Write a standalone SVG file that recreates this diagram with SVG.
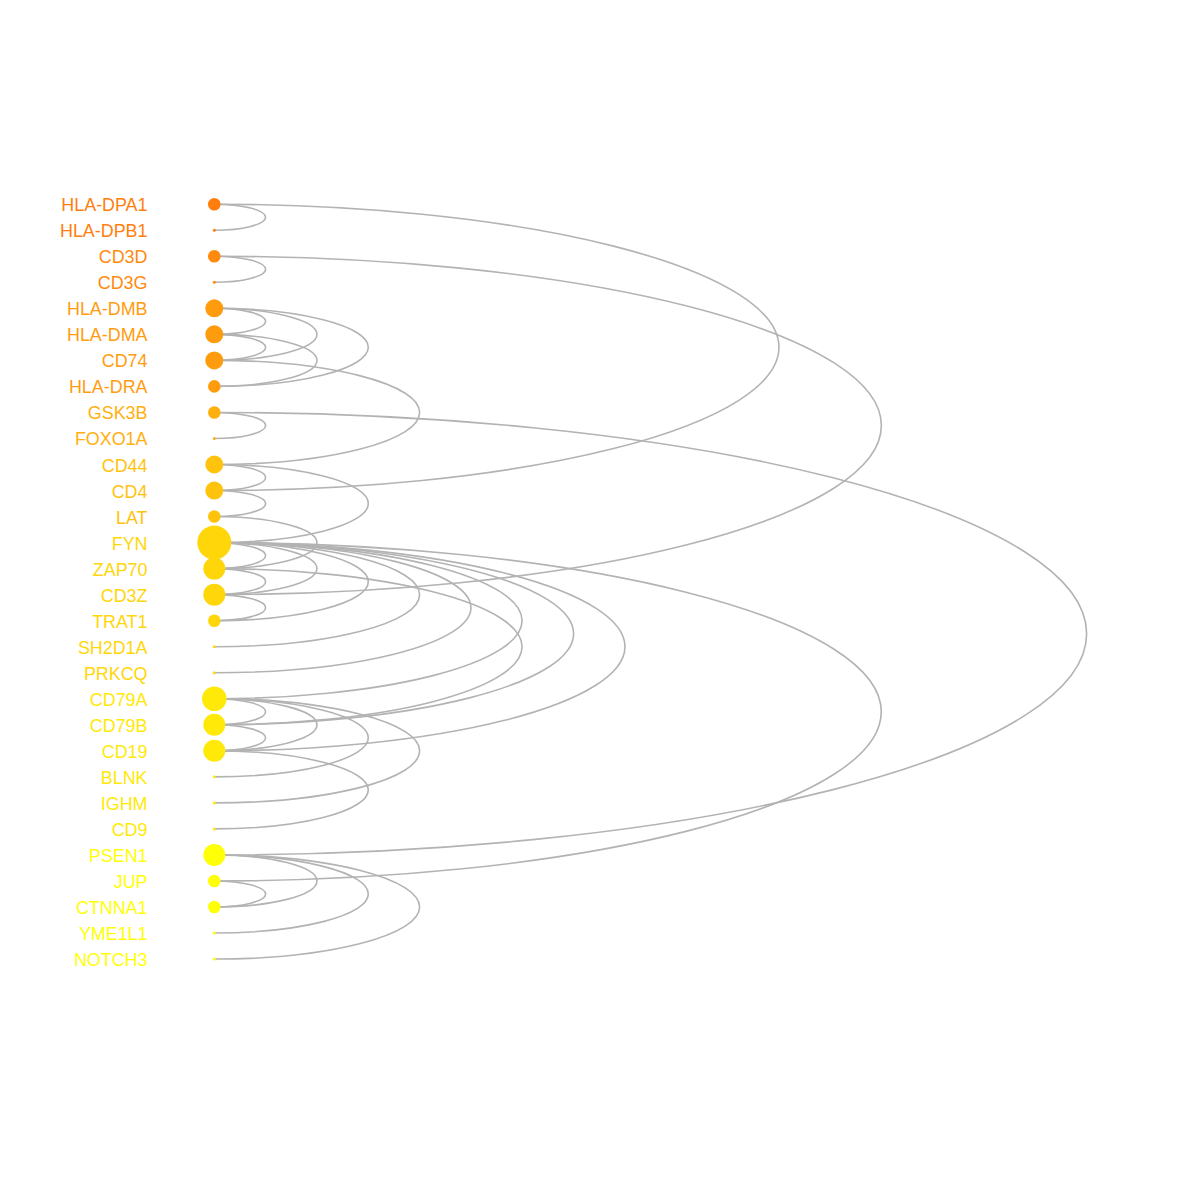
<svg xmlns="http://www.w3.org/2000/svg" width="1200" height="1200" viewBox="0 0 1200 1200">
<style>
.e{fill:none;stroke:#b3b3b3;stroke-width:1.6}
.l{font-family:"Liberation Sans",Arial,sans-serif;font-size:17.9px;text-anchor:end}
.g1{fill:#ff7e0e}.g2{fill:#ff8a0e}.g3{fill:#ff9c0e}.g4{fill:#ffb00e}
.g5{fill:#ffc30e}.g6{fill:#ffd60a}.g7{fill:#ffe908}.g8{fill:#ffff08}
</style>
<rect width="1200" height="1200" fill="#ffffff"/>
<g id="connectors">
<path class="e" d="M214.3 204.2A3.944 1 0 0 1 214.3 230.23"/>
<path class="e" d="M214.3 204.2A3.944 1 0 0 1 214.3 490.53"/>
<path class="e" d="M214.3 256.26A3.944 1 0 0 1 214.3 282.29"/>
<path class="e" d="M214.3 256.26A3.944 1 0 0 1 214.3 594.65"/>
<path class="e" d="M214.3 308.32A3.944 1 0 0 1 214.3 334.35"/>
<path class="e" d="M214.3 308.32A3.944 1 0 0 1 214.3 360.38"/>
<path class="e" d="M214.3 308.32A3.944 1 0 0 1 214.3 386.41"/>
<path class="e" d="M214.3 334.35A3.944 1 0 0 1 214.3 360.38"/>
<path class="e" d="M214.3 334.35A3.944 1 0 0 1 214.3 386.41"/>
<path class="e" d="M214.3 360.38A3.944 1 0 0 1 214.3 464.5"/>
<path class="e" d="M214.3 412.44A3.944 1 0 0 1 214.3 438.47"/>
<path class="e" d="M214.3 412.44A3.944 1 0 0 1 214.3 854.95"/>
<path class="e" d="M214.3 464.5A3.944 1 0 0 1 214.3 490.53"/>
<path class="e" d="M214.3 464.5A3.944 1 0 0 1 214.3 542.59"/>
<path class="e" d="M214.3 490.53A3.944 1 0 0 1 214.3 516.56"/>
<path class="e" d="M214.3 516.56A3.944 1 0 0 1 214.3 568.62"/>
<path class="e" d="M214.3 542.59A3.944 1 0 0 1 214.3 568.62"/>
<path class="e" d="M214.3 542.59A3.944 1 0 0 1 214.3 594.65"/>
<path class="e" d="M214.3 542.59A3.944 1 0 0 1 214.3 620.68"/>
<path class="e" d="M214.3 542.59A3.944 1 0 0 1 214.3 646.71"/>
<path class="e" d="M214.3 542.59A3.944 1 0 0 1 214.3 672.74"/>
<path class="e" d="M214.3 542.59A3.944 1 0 0 1 214.3 698.77"/>
<path class="e" d="M214.3 542.59A3.944 1 0 0 1 214.3 724.8"/>
<path class="e" d="M214.3 542.59A3.944 1 0 0 1 214.3 750.83"/>
<path class="e" d="M214.3 542.59A3.944 1 0 0 1 214.3 880.98"/>
<path class="e" d="M214.3 568.62A3.944 1 0 0 1 214.3 594.65"/>
<path class="e" d="M214.3 568.62A3.944 1 0 0 1 214.3 724.8"/>
<path class="e" d="M214.3 594.65A3.944 1 0 0 1 214.3 620.68"/>
<path class="e" d="M214.3 698.77A3.944 1 0 0 1 214.3 724.8"/>
<path class="e" d="M214.3 698.77A3.944 1 0 0 1 214.3 750.83"/>
<path class="e" d="M214.3 698.77A3.944 1 0 0 1 214.3 776.86"/>
<path class="e" d="M214.3 698.77A3.944 1 0 0 1 214.3 802.89"/>
<path class="e" d="M214.3 724.8A3.944 1 0 0 1 214.3 750.83"/>
<path class="e" d="M214.3 750.83A3.944 1 0 0 1 214.3 828.92"/>
<path class="e" d="M214.3 854.95A3.944 1 0 0 1 214.3 907.01"/>
<path class="e" d="M214.3 854.95A3.944 1 0 0 1 214.3 933.04"/>
<path class="e" d="M214.3 854.95A3.944 1 0 0 1 214.3 959.07"/>
<path class="e" d="M214.3 880.98A3.944 1 0 0 1 214.3 907.01"/>
</g>
<g id="n-HLA-DPA1" class="g1"><circle cx="214.3" cy="204.2" r="6.3"/><text class="l" x="147.5" y="211.2">HLA-DPA1</text></g>
<g id="n-HLA-DPB1" class="g1"><circle cx="214.3" cy="230.23" r="1.5"/><text class="l" x="147.5" y="237.23">HLA-DPB1</text></g>
<g id="n-CD3D" class="g2"><circle cx="214.3" cy="256.26" r="6.3"/><text class="l" x="147.5" y="263.26">CD3D</text></g>
<g id="n-CD3G" class="g2"><circle cx="214.3" cy="282.29" r="1.5"/><text class="l" x="147.5" y="289.29">CD3G</text></g>
<g id="n-HLA-DMB" class="g3"><circle cx="214.3" cy="308.32" r="9"/><text class="l" x="147.5" y="315.32">HLA-DMB</text></g>
<g id="n-HLA-DMA" class="g3"><circle cx="214.3" cy="334.35" r="9"/><text class="l" x="147.5" y="341.35">HLA-DMA</text></g>
<g id="n-CD74" class="g3"><circle cx="214.3" cy="360.38" r="9"/><text class="l" x="147.5" y="367.38">CD74</text></g>
<g id="n-HLA-DRA" class="g3"><circle cx="214.3" cy="386.41" r="6.3"/><text class="l" x="147.5" y="393.41">HLA-DRA</text></g>
<g id="n-GSK3B" class="g4"><circle cx="214.3" cy="412.44" r="6.3"/><text class="l" x="147.5" y="419.44">GSK3B</text></g>
<g id="n-FOXO1A" class="g4"><circle cx="214.3" cy="438.47" r="1.5"/><text class="l" x="147.5" y="445.47">FOXO1A</text></g>
<g id="n-CD44" class="g5"><circle cx="214.3" cy="464.5" r="9"/><text class="l" x="147.5" y="471.5">CD44</text></g>
<g id="n-CD4" class="g5"><circle cx="214.3" cy="490.53" r="9"/><text class="l" x="147.5" y="497.53">CD4</text></g>
<g id="n-LAT" class="g5"><circle cx="214.3" cy="516.56" r="6.3"/><text class="l" x="147.5" y="523.56">LAT</text></g>
<g id="n-FYN" class="g6"><circle cx="214.3" cy="542.59" r="17"/><text class="l" x="147.5" y="549.59">FYN</text></g>
<g id="n-ZAP70" class="g6"><circle cx="214.3" cy="568.62" r="11"/><text class="l" x="147.5" y="575.62">ZAP70</text></g>
<g id="n-CD3Z" class="g6"><circle cx="214.3" cy="594.65" r="11"/><text class="l" x="147.5" y="601.65">CD3Z</text></g>
<g id="n-TRAT1" class="g6"><circle cx="214.3" cy="620.68" r="6.3"/><text class="l" x="147.5" y="627.68">TRAT1</text></g>
<g id="n-SH2D1A" class="g6"><circle cx="214.3" cy="646.71" r="1.5"/><text class="l" x="147.5" y="653.71">SH2D1A</text></g>
<g id="n-PRKCQ" class="g6"><circle cx="214.3" cy="672.74" r="1.5"/><text class="l" x="147.5" y="679.74">PRKCQ</text></g>
<g id="n-CD79A" class="g7"><circle cx="214.3" cy="698.77" r="12.3"/><text class="l" x="147.5" y="705.77">CD79A</text></g>
<g id="n-CD79B" class="g7"><circle cx="214.3" cy="724.8" r="11"/><text class="l" x="147.5" y="731.8">CD79B</text></g>
<g id="n-CD19" class="g7"><circle cx="214.3" cy="750.83" r="11"/><text class="l" x="147.5" y="757.83">CD19</text></g>
<g id="n-BLNK" class="g7"><circle cx="214.3" cy="776.86" r="1.5"/><text class="l" x="147.5" y="783.86">BLNK</text></g>
<g id="n-IGHM" class="g7"><circle cx="214.3" cy="802.89" r="1.5"/><text class="l" x="147.5" y="809.89">IGHM</text></g>
<g id="n-CD9" class="g7"><circle cx="214.3" cy="828.92" r="1.5"/><text class="l" x="147.5" y="835.92">CD9</text></g>
<g id="n-PSEN1" class="g8"><circle cx="214.3" cy="854.95" r="11"/><text class="l" x="147.5" y="861.95">PSEN1</text></g>
<g id="n-JUP" class="g8"><circle cx="214.3" cy="880.98" r="6.3"/><text class="l" x="147.5" y="887.98">JUP</text></g>
<g id="n-CTNNA1" class="g8"><circle cx="214.3" cy="907.01" r="6.3"/><text class="l" x="147.5" y="914.01">CTNNA1</text></g>
<g id="n-YME1L1" class="g8"><circle cx="214.3" cy="933.04" r="1.5"/><text class="l" x="147.5" y="940.04">YME1L1</text></g>
<g id="n-NOTCH3" class="g8"><circle cx="214.3" cy="959.07" r="1.5"/><text class="l" x="147.5" y="966.07">NOTCH3</text></g>
</svg>
